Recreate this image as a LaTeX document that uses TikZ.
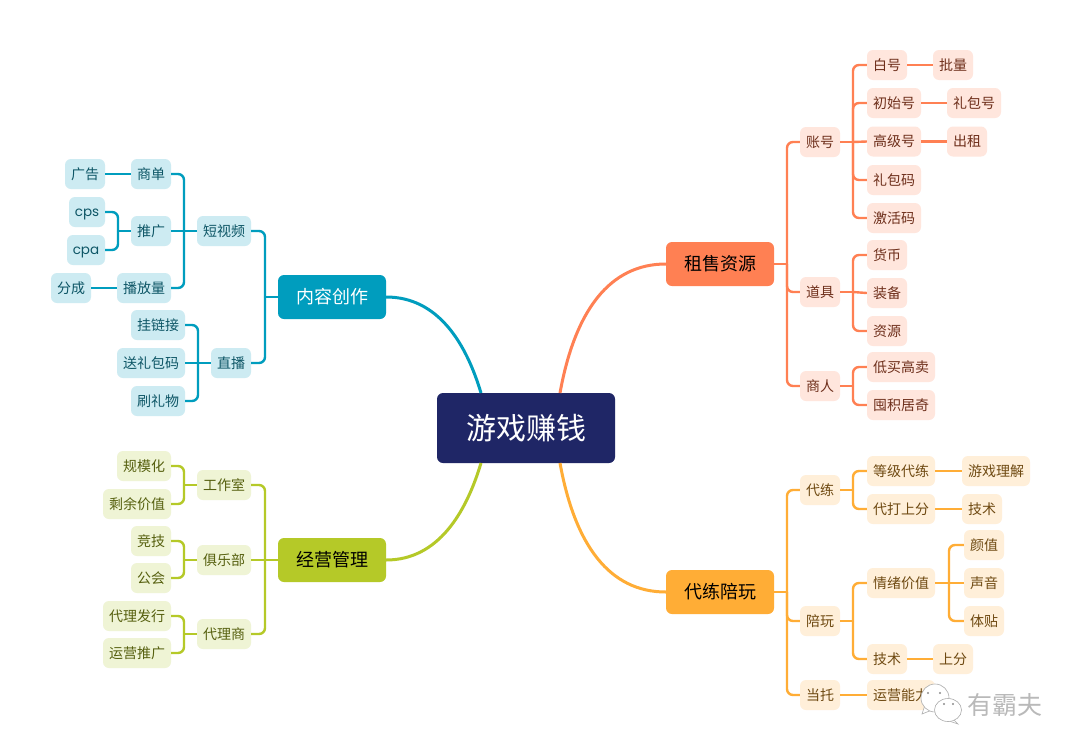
\documentclass[tikz,border=0pt]{standalone}
\usepackage{xcolor}
\usepackage{fontspec}
\usepackage{tikz}
\setmainfont{Noto Sans CJK SC}
\newfontfamily\latinfont{Poppins}

\definecolor{rootblue}{HTML}{1F2666}
\definecolor{rentline}{HTML}{FF8053}
\definecolor{rentfill}{HTML}{FFE6DD}
\definecolor{renttext}{HTML}{6E2F1B}
\definecolor{playline}{HTML}{FFAD36}
\definecolor{playfill}{HTML}{FFEFD9}
\definecolor{playtext}{HTML}{6F4A12}
\definecolor{mediline}{HTML}{009DBE}
\definecolor{medifill}{HTML}{CDEBF2}
\definecolor{meditext}{HTML}{0E5666}
\definecolor{bossline}{HTML}{B5C928}
\definecolor{bossfill}{HTML}{EFF4D5}
\definecolor{bosstext}{HTML}{56600F}

\tikzset{
    box/.style={rounded corners=6pt, inner sep=0pt, minimum height=30pt, font=\fontsize{14}{16}\selectfont},
    two/.style={minimum width=40pt},
    three/.style={minimum width=54pt},
    four/.style={minimum width=68pt},
    latinbox/.style={text height=10pt, text depth=1pt, font=\latinfont\fontsize{13.5}{16}\selectfont},
    main/.style={rounded corners=6pt, inner sep=0pt, minimum width=108pt, minimum height=44pt, text=white, font=\fontsize{18}{20}\selectfont},
    rent/.style={box, fill=rentfill, text=renttext},
    play/.style={box, fill=playfill, text=playtext},
    medi/.style={box, fill=medifill, text=meditext},
    boss/.style={box, fill=bossfill, text=bosstext},
    rentedge/.style={draw=rentline, line width=2.4pt, rounded corners=6pt},
    playedge/.style={draw=playline, line width=2.4pt, rounded corners=6pt},
    mediedge/.style={draw=mediline, line width=2.4pt, rounded corners=6pt},
    bossedge/.style={draw=bossline, line width=2.4pt, rounded corners=6pt},
    bubble/.style={draw=gray!65, fill=white, line width=0.6pt},
}

\begin{document}
\begin{tikzpicture}[x=1pt, y=-1pt]
    \useasboundingbox (0,0) rectangle (1080,753);
    \fill[white] (0,0) rectangle (1080,753);

    % Define centre and main topics
    \node[main, fill=rootblue, minimum width=178pt, minimum height=70pt, font=\fontsize{30}{32}\selectfont] (root) at (526,428) {游戏赚钱};
    \node[main, fill=rentline, text=black] (rent) at (720,264) {租售资源};
    \node[main, fill=playline, text=black] (play) at (720,592) {代练陪玩};
    \node[main, fill=mediline] (medi) at (332,297) {内容创作};
    \node[main, fill=bossline, text=black] (boss) at (332,560) {经营管理};

    % Define nodes, top right
    \node[rent, two] (account) at (820,142) {账号};
    \node[rent, two] (white) at (887,65) {白号};
    \node[rent, two] (batch) at (953,65) {批量};
    \node[rent, three] (fresh) at (894,103) {初始号};
    \node[rent, three] (giftacc) at (974,103) {礼包号};
    \node[rent, three] (senior) at (894,141.5) {高级号};
    \node[rent, two] (lease) at (967,141.5) {出租};
    \node[rent, three] (giftcode) at (894,180) {礼包码};
    \node[rent, three] (activate) at (894,218) {激活码};
    \node[rent, two] (props) at (820,292) {道具};
    \node[rent, two] (money) at (887,255) {货币};
    \node[rent, two] (gear) at (887,293) {装备};
    \node[rent, two] (stock) at (887,331) {资源};
    \node[rent, two] (trader) at (820,386) {商人};
    \node[rent, four] (flip) at (901,367) {低买高卖};
    \node[rent, four] (hoard) at (901,405) {囤积居奇};

    % Define nodes, bottom right
    \node[play, two] (boost) at (820,490) {代练};
    \node[play, four] (level) at (901,471) {等级代练};
    \node[play, four] (sense) at (996,471) {游戏理解};
    \node[play, four] (rank) at (901,509) {代打上分};
    \node[play, two] (skill) at (982,509) {技术};
    \node[play, two] (escort) at (820,621) {陪玩};
    \node[play, four] (mood) at (901,583) {情绪价值};
    \node[play, two] (looks) at (984,545) {颜值};
    \node[play, two] (voice) at (984,583) {声音};
    \node[play, two] (care) at (984,621) {体贴};
    \node[play, two] (tech) at (887,659) {技术};
    \node[play, two] (climb) at (953,659) {上分};
    \node[play, two] (shill) at (820,695) {当托};
    \node[play, four] (ops) at (901,695) {运营能力};

    % Define nodes, top left
    \node[medi, three] (short) at (224,231) {短视频};
    \node[medi, two] (order) at (151,174) {商单};
    \node[medi, two] (adv) at (85,174) {广告};
    \node[medi, two] (promo) at (151,231) {推广};
    \node[medi, latinbox, minimum width=36pt] (cps) at (87,212) {cps};
    \node[medi, latinbox, minimum width=38pt] (cpa) at (86,250) {cpa};
    \node[medi, three] (views) at (144,288) {播放量};
    \node[medi, two] (share) at (71,288) {分成};
    \node[medi, two] (live) at (231,363) {直播};
    \node[medi, three] (hang) at (158,325) {挂链接};
    \node[medi, four] (sendgift) at (151,363) {送礼包码};
    \node[medi, three] (tip) at (158,401) {刷礼物};

    % Define nodes, bottom left
    \node[boss, three] (studio) at (224,485) {工作室};
    \node[boss, three] (scale) at (144,466) {规模化};
    \node[boss, four] (surplus) at (137,504) {剩余价值};
    \node[boss, three] (club) at (224,560) {俱乐部};
    \node[boss, two] (sport) at (151,541) {竞技};
    \node[boss, two] (guild) at (151,578) {公会};
    \node[boss, three] (agent) at (224,634) {代理商};
    \node[boss, four] (publish) at (137,616) {代理发行};
    \node[boss, four] (market) at (137,653) {运营推广};

    % Define junctions and the points where the big curves meet the centre
    \coordinate (rootne) at (560,393);
    \coordinate (rootse) at (560,463);
    \coordinate (rootnw) at (481,393);
    \coordinate (rootsw) at (481,463);
    \coordinate (rentj) at (787,264);
    \coordinate (accountj) at (853,142);
    \coordinate (propsj) at (853,292);
    \coordinate (traderj) at (853,386);
    \coordinate (playj) at (787,592);
    \coordinate (boostj) at (853,490);
    \coordinate (escortj) at (853,621);
    \coordinate (moodj) at (949,583);
    \coordinate (medij) at (265,297);
    \coordinate (shortj) at (184,231);
    \coordinate (promoj) at (118,231);
    \coordinate (livej) at (198,363);
    \coordinate (bossj) at (265,560);
    \coordinate (studioj) at (184,485);
    \coordinate (clubj) at (184,560);
    \coordinate (agentj) at (184,634);

    % Draw big curves
    \draw[rentedge, line width=3pt] (rootne) .. controls (575,310) and (610,264) .. (rent.west);
    \draw[playedge, line width=3pt] (rootse) .. controls (575,546) and (610,592) .. (play.west);
    \draw[mediedge, line width=3pt] (rootnw) .. controls (466,343) and (438,297) .. (medi.east);
    \draw[bossedge, line width=3pt] (rootsw) .. controls (466,513) and (438,560) .. (boss.east);

    % Draw edges, top right
    \draw[rentedge] (rent.east) -- (rentj);
    \draw[rentedge] (rentj) |- (account.west);
    \draw[rentedge] (rentj) |- (props.west);
    \draw[rentedge] (rentj) |- (trader.west);
    \draw[rentedge] (account.east) -- (accountj);
    \draw[rentedge] (accountj) |- (white.west);
    \draw[rentedge] (accountj) |- (fresh.west);
    \draw[rentedge] (accountj) -- (senior.west);
    \draw[rentedge] (accountj) |- (giftcode.west);
    \draw[rentedge] (accountj) |- (activate.west);
    \draw[rentedge] (white.east) -- (batch.west);
    \draw[rentedge] (fresh.east) -- (giftacc.west);
    \draw[rentedge] (senior.east) -- (lease.west);
    \draw[rentedge] (props.east) -- (propsj);
    \draw[rentedge] (propsj) |- (money.west);
    \draw[rentedge] (propsj) -- (gear.west);
    \draw[rentedge] (propsj) |- (stock.west);
    \draw[rentedge] (trader.east) -- (traderj);
    \draw[rentedge] (traderj) |- (flip.west);
    \draw[rentedge] (traderj) |- (hoard.west);

    % Draw edges, bottom right
    \draw[playedge] (play.east) -- (playj);
    \draw[playedge] (playj) |- (boost.west);
    \draw[playedge] (playj) |- (escort.west);
    \draw[playedge] (playj) |- (shill.west);
    \draw[playedge] (boost.east) -- (boostj);
    \draw[playedge] (boostj) |- (level.west);
    \draw[playedge] (boostj) |- (rank.west);
    \draw[playedge] (level.east) -- (sense.west);
    \draw[playedge] (rank.east) -- (skill.west);
    \draw[playedge] (escort.east) -- (escortj);
    \draw[playedge] (escortj) |- (mood.west);
    \draw[playedge] (escortj) |- (tech.west);
    \draw[playedge] (mood.east) -- (moodj);
    \draw[playedge] (moodj) |- (looks.west);
    \draw[playedge] (moodj) -- (voice.west);
    \draw[playedge] (moodj) |- (care.west);
    \draw[playedge] (tech.east) -- (climb.west);
    \draw[playedge] (shill.east) -- (ops.west);

    % Draw edges, top left
    \draw[mediedge] (medi.west) -- (medij);
    \draw[mediedge] (medij) |- (short.east);
    \draw[mediedge] (medij) |- (live.east);
    \draw[mediedge] (short.west) -- (shortj);
    \draw[mediedge] (shortj) |- (order.east);
    \draw[mediedge] (shortj) -- (promo.east);
    \draw[mediedge] (shortj) |- (views.east);
    \draw[mediedge] (order.west) -- (adv.east);
    \draw[mediedge] (promo.west) -- (promoj);
    \draw[mediedge] (promoj) |- (cps.east);
    \draw[mediedge] (promoj) |- (cpa.east);
    \draw[mediedge] (views.west) -- (share.east);
    \draw[mediedge] (live.west) -- (livej);
    \draw[mediedge] (livej) |- (hang.east);
    \draw[mediedge] (livej) -- (sendgift.east);
    \draw[mediedge] (livej) |- (tip.east);

    % Draw edges, bottom left
    \draw[bossedge] (boss.west) -- (bossj);
    \draw[bossedge] (bossj) |- (studio.east);
    \draw[bossedge] (bossj) -- (club.east);
    \draw[bossedge] (bossj) |- (agent.east);
    \draw[bossedge] (studio.west) -- (studioj);
    \draw[bossedge] (studioj) |- (scale.east);
    \draw[bossedge] (studioj) |- (surplus.east);
    \draw[bossedge] (club.west) -- (clubj);
    \draw[bossedge] (clubj) |- (sport.east);
    \draw[bossedge] (clubj) |- (guild.east);
    \draw[bossedge] (agent.west) -- (agentj);
    \draw[bossedge] (agentj) |- (publish.east);
    \draw[bossedge] (agentj) |- (market.east);

    % Watermark
    \filldraw[bubble] (925,705) -- (922,714) -- (932,710) -- cycle;
    \filldraw[bubble] (935,698) ellipse (14 and 14);
    \fill[gray!90] (928,693) circle (1.2);
    \fill[gray!90] (940,693) circle (1.2);
    \filldraw[bubble] (952,718) -- (958,724) -- (946,720) -- cycle;
    \filldraw[bubble] (948,710) ellipse (13.5 and 11.5);
    \fill[gray!90] (944,704) circle (1.2);
    \fill[gray!90] (953,704) circle (1.2);
    \node[text=gray!55, inner sep=0pt, font=\fontsize{25}{27}\selectfont] (mark) at (1005,705) {有霸夫};
\end{tikzpicture}
\end{document}
